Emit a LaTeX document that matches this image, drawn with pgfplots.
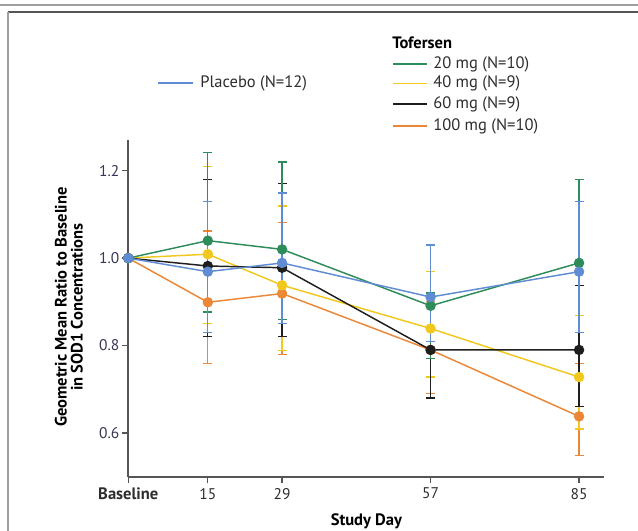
\documentclass[border=0pt]{standalone}
\usepackage{fontspec}
\setmainfont{PT Sans}
\usepackage{pgfplots}
\pgfplotsset{compat=1.18}
\definecolor{cgreen}{RGB}{46,140,90}
\definecolor{cyellow}{RGB}{240,200,30}
\definecolor{cblack}{RGB}{30,30,30}
\definecolor{corange}{RGB}{235,135,55}
\definecolor{cblue}{RGB}{95,140,210}
\definecolor{axisgray}{RGB}{85,85,85}
\definecolor{ticknum}{RGB}{55,55,85}
\definecolor{txt}{RGB}{45,45,45}
\newcommand{\fs}{\fontsize{12.4}{14}\selectfont}
\newcommand{\fn}{\fontsize{11.6}{13}\selectfont}
\pgfplotsset{
  ser/.style={color=#1, line width=1.1pt, mark=*, mark size=3.5pt,
    mark options={fill=#1, draw=#1, line width=0.8pt},
    error bars/y dir=both, error bars/y explicit,
    error bars/error bar style={line width=0.9pt, draw=#1},
    error bars/error mark=-,
    error bars/error mark options={rotate=90, draw=#1, mark size=3.4pt, line width=0.9pt}}
}
\begin{document}
\begin{tikzpicture}[x=0.75pt,y=0.75pt]
\useasboundingbox (0,0) rectangle (638,531);
\draw[gray!75, line width=1.1pt] (0,526) -- (638,526);
\draw[axisgray, line width=1.5pt] (8,519) -- (638,519);
\draw[gray!75, line width=0.9pt] (8,519) -- (8,0);
% legend
\draw[cblue, line width=1.1pt] (158,448) -- (193,448);
\node[anchor=west, inner sep=0pt, text=txt, font=\fs] at (200,448) {Placebo (N=12)};
\node[anchor=west, inner sep=0pt, text=black, font=\fs\bfseries] at (392,488) {Tofersen};
\draw[cgreen, line width=1.1pt] (393,467) -- (427,467);
\node[anchor=west, inner sep=0pt, text=txt, font=\fs] at (433,467) {20 mg (N=10)};
\draw[cyellow, line width=1.1pt] (393,447.5) -- (427,447.5);
\node[anchor=west, inner sep=0pt, text=txt, font=\fs] at (433,447.5) {40 mg (N=9)};
\draw[cblack, line width=1.1pt] (393,427) -- (427,427);
\node[anchor=west, inner sep=0pt, text=txt, font=\fs] at (433,427) {60 mg (N=9)};
\draw[corange, line width=1.1pt] (393,405) -- (427,405);
\node[anchor=west, inner sep=0pt, text=txt, font=\fs] at (433,405) {100 mg (N=10)};
\begin{axis}[
  at={(96.2pt,40.7pt)}, anchor=south west,
  scale only axis, width=356.8pt, height=252.5pt,
  xmin=0, xmax=89.7, ymin=0.5, ymax=1.27,
  axis x line*=bottom, axis y line*=left,
  axis line style={axisgray, line width=1.3pt, -},
  tick align=outside, major tick length=5pt,
  tick style={axisgray, line width=1pt},
  xtick={0,15,29,57,85},
  xticklabels={{\fs\textbf{Baseline}},15,29,57,85},
  ytick={0.6,0.8,1.0,1.2},
  /pgf/number format/assume math mode=true,
  yticklabel style={/pgf/number format/fixed, /pgf/number format/fixed zerofill, /pgf/number format/precision=1, text=ticknum, inner sep=1.5pt},
  xticklabel style={text=txt},
  tick label style={font=\fn},
  xlabel={\textbf{Study Day}},
  xlabel style={font=\fs, at={(axis description cs:0.5007,-0.1337)}, anchor=center},
  ylabel={\textbf{Geometric Mean Ratio to Baseline}\\\textbf{in SOD1 Concentrations}},
  ylabel style={font=\fontsize{12.4}{12}\selectfont, align=center, at={(axis description cs:-0.125,0.504)}, anchor=center},
  clip=false,
]
% 100 mg
\addplot[ser=corange] coordinates {
 (0,1.0)
 (15,0.899) += (0,0.163) -= (0,0.140)
 (29,0.919) += (0,0.163) -= (0,0.139)
 (57,0.790) += (0,0.110) -= (0,0.100)
 (85,0.638) += (0,0.121) -= (0,0.089)
};
% 40 mg
\addplot[ser=cyellow] coordinates {
 (0,1.0)
 (15,1.009) += (0,0.201) -= (0,0.158)
 (29,0.938) += (0,0.181) -= (0,0.149)
 (57,0.839) += (0,0.130) -= (0,0.111)
 (85,0.728) += (0,0.140) -= (0,0.119)
};
% 60 mg
\addplot[ser=cblack] coordinates {
 (0,1.0)
 (15,0.982) += (0,0.198) -= (0,0.162)
 (29,0.978) += (0,0.192) -= (0,0.158)
 (57,0.790) += (0,0.130) -= (0,0.110)
 (85,0.790) += (0,0.148) -= (0,0.130)
};
% 20 mg
\addplot[ser=cgreen] coordinates {
 (0,1.0)
 (15,1.040) += (0,0.201) -= (0,0.163)
 (29,1.020) += (0,0.200) -= (0,0.160)
 (57,0.891) += (0,0.029) -= (0,0.121)
 (85,0.989) += (0,0.191) -= (0,0.159)
};
% placebo
\addplot[ser=cblue] coordinates {
 (0,1.0)
 (15,0.969) += (0,0.160) -= (0,0.139)
 (29,0.989) += (0,0.160) -= (0,0.138)
 (57,0.911) += (0,0.119) -= (0,0.101)
 (85,0.969) += (0,0.160) -= (0,0.139)
};
\end{axis}
\end{tikzpicture}
\end{document}
